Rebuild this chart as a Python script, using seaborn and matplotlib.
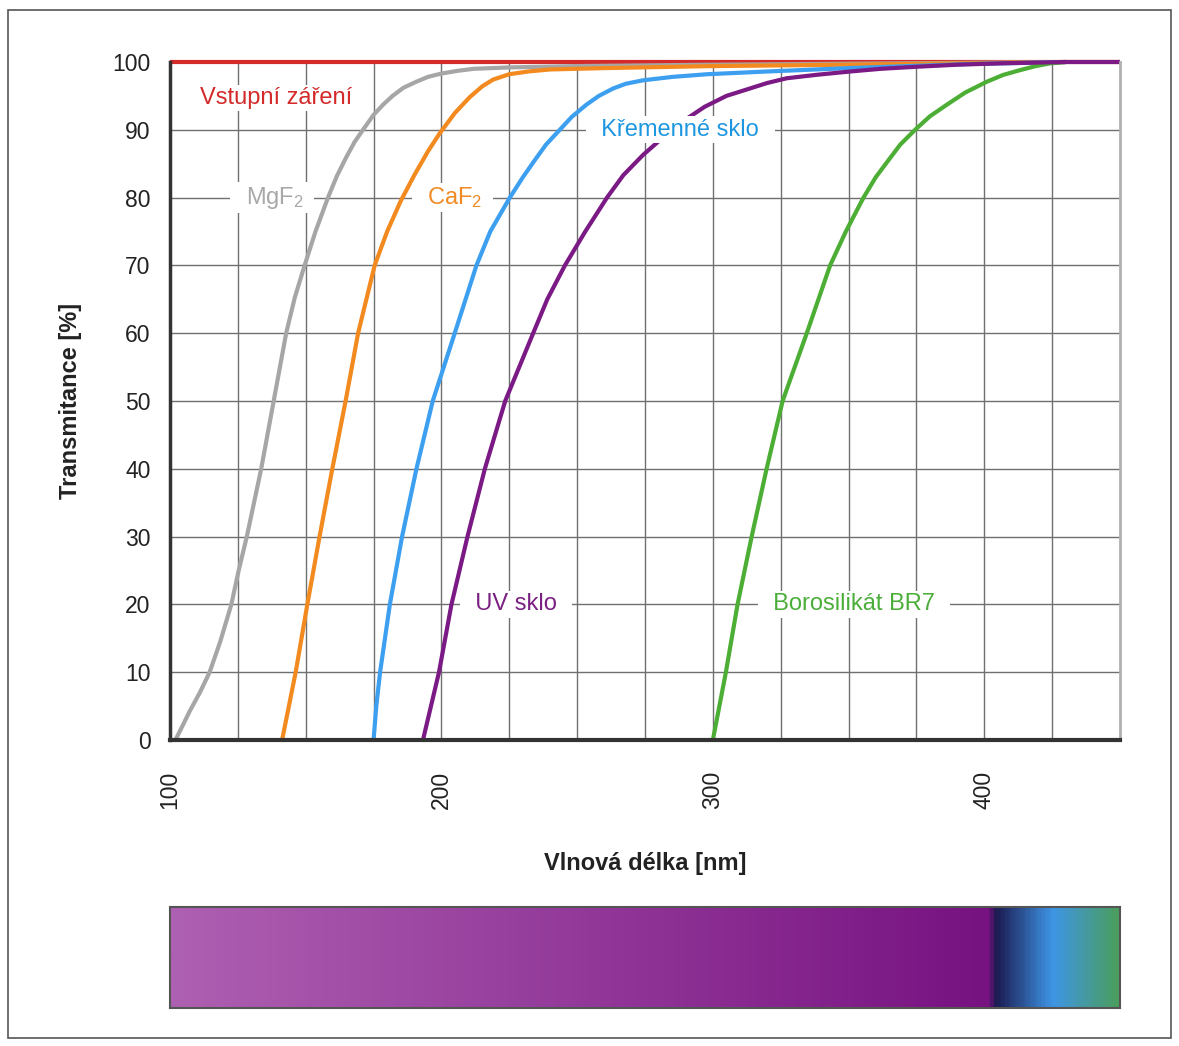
import numpy as np
import pandas as pd
import matplotlib
matplotlib.use('Agg')
import matplotlib.pyplot as plt
import seaborn as sns
from matplotlib.colors import LinearSegmentedColormap
from matplotlib.patches import Rectangle

# Data (wavelength nm, transmitance %)
vstup_nm = [100, 450]
vstup_t = [100, 100]

mgf2_nm = [102, 104.5, 107.2, 111, 114.6, 118.5, 122.6, 125.3, 128.3, 133.6, 138.2, 142.8,
           146, 149.6, 153.6, 158.2, 161.5, 165, 168, 171.1, 175, 178.5, 182, 186, 190.8,
           195, 200, 206, 212, 225, 250, 300, 350, 400, 430]
mgf2_t = [0, 2, 4.2, 7, 10, 14.5, 20, 25, 30, 40, 50, 60, 65.3, 70, 75, 80, 83.2, 86, 88.2,
          90, 92.2, 93.7, 95, 96.2, 97.1, 97.8, 98.3, 98.7, 99, 99.2, 99.4, 99.6, 99.75, 99.9, 100]

caf2_nm = [141.3, 146.3, 150.6, 155.1, 159.8, 164.7, 169.3, 175.4, 180, 185, 190, 195, 199.4,
           205, 210.4, 215, 219, 225, 232, 240, 260, 300, 350, 400, 430]
caf2_t = [0, 10, 20, 30, 40, 50, 60, 70, 75, 79.5, 83.3, 86.8, 89.5, 92.5, 94.8, 96.4, 97.4,
          98.2, 98.6, 98.9, 99.1, 99.4, 99.6, 99.85, 100]

kremen_nm = [175, 176, 177.4, 181, 185.5, 190.8, 196.8, 204.9, 212.9, 218, 225.2, 230, 234,
             238.5, 243.6, 248, 253.4, 258, 263.3, 268, 274.3, 285, 298, 320, 350, 394, 430]
kremen_t = [0, 5, 10, 20, 30, 40, 50, 60, 70, 75, 80, 83, 85.3, 87.8, 90, 91.9, 93.7, 95, 96.1,
            96.8, 97.3, 97.8, 98.2, 98.6, 99.1, 99.7, 100]

boro_nm = [300, 304.8, 309.1, 314.3, 319.8, 325.7, 334.6, 343.2, 349, 355.5, 360, 364.3, 369,
           374.5, 380, 386.2, 393, 401, 407, 413.2, 419, 424.3, 430]
boro_t = [0, 10, 20, 30, 40, 50, 60, 70, 75, 80, 83, 85.3, 87.8, 90, 92, 93.7, 95.5, 97.1,
          98.1, 98.8, 99.4, 99.8, 100]

uv_nm = [193.2, 199.1, 203.7, 209.6, 216, 223.5, 233.8, 239, 245.5, 253, 261, 267, 274.3, 280,
         285.4, 291, 297, 305, 313.7, 320, 327.2, 338, 350.6, 362, 375.1, 390, 405.9, 430, 450]
uv_t = [0, 10, 20, 30, 40, 50, 60, 65, 70, 75, 80, 83.3, 86.3, 88.3, 90, 91.8, 93.4, 95, 96.1,
        96.9, 97.6, 98.1, 98.6, 99, 99.3, 99.6, 99.8, 100, 100]

series = ['Vstupní záření', 'MgF2', 'CaF2', 'Křemenné sklo', 'Borosilikát BR7', 'UV sklo']
barvy = {'Vstupní záření': '#d42a2a', 'MgF2': '#a6a6a6', 'CaF2': '#f28a20',
         'Křemenné sklo': '#3d9ff0', 'Borosilikát BR7': '#4cae34', 'UV sklo': '#7b1a85'}

# spectrum strip stops
spektrum_nm = [100, 402, 405, 426, 450]
spektrum_barvy = ['#ae60b2', '#771281', '#1b1a4f', '#3e95e6', '#4b9e5e']

# labels: text, x, y, colour
popisky = [('Vstupní záření', 139, 94.7, '#d42a2a'),
           ('  MgF$_2$  ', 137.6, 80, '#a8a8a8'),
           ('  CaF$_2$  ', 204, 80, '#f08a24'),
           ('  Křemenné sklo  ', 288, 90, '#1f97e0'),
           ('  UV sklo  ', 227.5, 20, '#7a2082'),
           ('  Borosilikát BR7  ', 352, 20, '#4cae3a')]

df = pd.concat([
    pd.DataFrame({'nm': x, 'T': y, 'material': name})
    for name, x, y in zip(series,
                          [vstup_nm, mgf2_nm, caf2_nm, kremen_nm, boro_nm, uv_nm],
                          [vstup_t, mgf2_t, caf2_t, kremen_t, boro_t, uv_t])
])

sns.set_style('white')
plt.rcParams['font.family'] = ['Liberation Sans', 'DejaVu Sans']
plt.rcParams['mathtext.fontset'] = 'custom'
plt.rcParams['mathtext.rm'] = 'Liberation Sans'
plt.rcParams['mathtext.it'] = 'Liberation Sans'

fig = plt.figure(figsize=(11.79, 10.46), dpi=100)
ax = fig.add_axes([170 / 1179, 1 - 740 / 1046, 950 / 1179, 678 / 1046])
cax = fig.add_axes([170 / 1179, 1 - 1008 / 1046, 950 / 1179, 101 / 1046])

sns.lineplot(data=df, x='nm', y='T', hue='material', hue_order=series, palette=barvy,
             estimator=None, sort=False, linewidth=3, legend=False, ax=ax)
for line in ax.lines:
    line.set_clip_on(False)
    line.set_solid_capstyle('butt')
    line.set_solid_joinstyle('round')

ax.set_xlim(100, 450)
ax.set_ylim(0, 100)
ax.set_xticks([100, 200, 300, 400])
ax.set_xticks(np.arange(125, 450, 25), minor=True)
ax.set_yticks(np.arange(0, 101, 10))
ax.grid(which='both', color='#707070', linewidth=1)
ax.set_axisbelow(True)
ax.tick_params(which='both', length=0)
ax.tick_params(axis='y', labelsize=16.5, pad=14, labelcolor='#222222')
ax.tick_params(axis='x', labelsize=16.5, pad=22, labelrotation=90, labelcolor='#222222')

ax.set_xlabel('Vlnová délka [nm]', fontsize=17, fontweight='bold', color='#222222')
ax.set_ylabel('Transmitance [%]', fontsize=17, fontweight='bold', color='#222222')
ax.xaxis.set_label_coords(0.5, -0.165)
ax.yaxis.set_label_coords(-0.093, 0.5)

ax.spines['top'].set_visible(False)
ax.spines['left'].set_color('#333333')
ax.spines['left'].set_linewidth(2.5)
ax.spines['bottom'].set_color('#333333')
ax.spines['bottom'].set_linewidth(3)
ax.spines['right'].set_color('#b0b0b0')
ax.spines['right'].set_linewidth(2)

for text, x, y, c in popisky:
    ax.text(x, y, text, color=c, fontsize=17, ha='center', va='center',
            bbox=dict(facecolor='white', edgecolor='none', boxstyle='square,pad=0.1'))

# spectrum strip
cmap = LinearSegmentedColormap.from_list(
    'spektrum', [((v - 100) / 350, c) for v, c in zip(spektrum_nm, spektrum_barvy)])
grad = np.linspace(100, 450, 700).reshape(1, -1)
cax.imshow(grad, extent=[100, 450, 0, 1], aspect='auto', cmap=cmap, vmin=100, vmax=450)
cax.set_xticks([])
cax.set_yticks([])
for s in cax.spines.values():
    s.set_color('#555555')
    s.set_linewidth(1.5)

# frame around the whole picture
fig.patches.append(Rectangle((8 / 1179, 8 / 1046), 1163 / 1179, 1028 / 1046,
                             transform=fig.transFigure, fill=False,
                             edgecolor='#555555', linewidth=1.2))

fig.savefig('out.png', dpi=100)
